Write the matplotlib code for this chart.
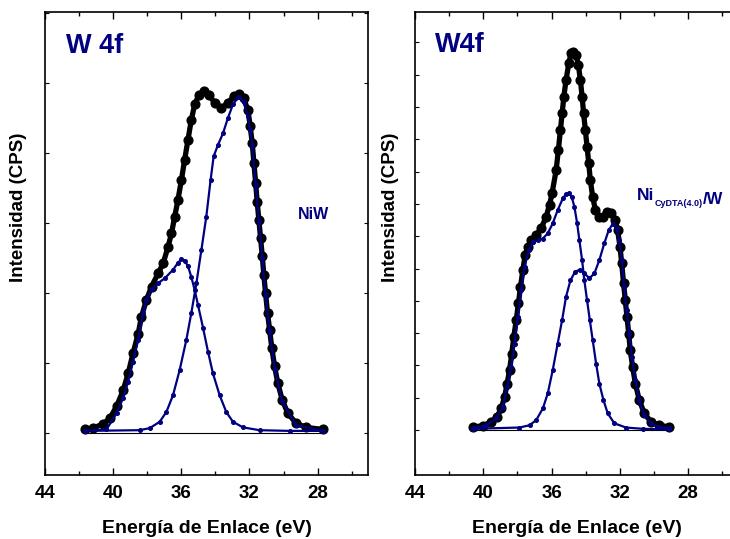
import numpy as np
import matplotlib.pyplot as plt

# Panel izquierdo: NiW (energia de enlace en eV, intensidad en u.a.)
be_env_niw = [41.64, 41.16, 40.57, 40.18, 39.79, 39.40, 39.11, 38.82, 38.52, 38.33,
              38.04, 37.74, 37.35, 37.06, 36.77, 36.57, 36.38, 36.19, 35.99, 35.80,
              35.60, 35.41, 35.21, 34.96, 34.66, 34.37, 34.04, 33.65, 33.26, 32.93,
              32.64, 32.35, 32.09, 31.96, 31.84, 31.74, 31.64, 31.55, 31.45, 31.35,
              31.25, 31.16, 31.06, 30.94, 30.82, 30.69, 30.53, 30.34, 30.08, 29.75,
              29.27, 28.68, 27.71]
int_env_niw = [0.05, 0.07, 0.13, 0.21, 0.38, 0.61, 0.85, 1.14, 1.42, 1.66,
               1.90, 2.09, 2.28, 2.42, 2.66, 2.85, 3.09, 3.33, 3.61, 3.90,
               4.19, 4.47, 4.69, 4.83, 4.88, 4.83, 4.71, 4.64, 4.71, 4.81,
               4.84, 4.78, 4.61, 4.38, 4.14, 3.85, 3.57, 3.30, 3.04, 2.78,
               2.52, 2.26, 2.00, 1.71, 1.47, 1.21, 0.95, 0.71, 0.47, 0.28,
               0.14, 0.08, 0.05]

be_c1_niw = [41.64, 40.38, 39.79, 39.40, 39.11, 38.82, 38.52, 38.23, 38.04, 37.74,
             37.35, 36.96, 36.48, 36.19, 35.99, 35.80, 35.60, 35.41, 35.21, 35.02,
             34.72, 34.43, 34.14, 33.75, 33.36, 32.97, 32.38, 31.41, 29.65, 27.71]
int_c1_niw = [0.03, 0.05, 0.28, 0.50, 0.73, 1.02, 1.33, 1.71, 1.90, 2.05,
              2.14, 2.21, 2.33, 2.43, 2.48, 2.46, 2.38, 2.23, 2.04, 1.83,
              1.50, 1.16, 0.85, 0.54, 0.30, 0.16, 0.08, 0.04, 0.03, 0.03]

be_c2_niw = [41.64, 38.43, 37.84, 37.26, 36.87, 36.48, 36.09, 35.70, 35.41, 35.11,
             34.82, 34.53, 34.28, 34.10, 33.85, 33.55, 33.26, 32.97, 32.64, 32.35,
             32.09, 31.96, 31.84, 31.64, 31.45, 31.25, 31.06, 30.82, 30.53, 30.08,
             29.27, 27.71]
int_c2_niw = [0.03, 0.04, 0.07, 0.16, 0.30, 0.54, 0.90, 1.33, 1.71, 2.14,
              2.61, 3.09, 3.61, 3.95, 4.11, 4.28, 4.50, 4.69, 4.80, 4.73,
              4.52, 4.33, 4.11, 3.54, 3.02, 2.50, 1.97, 1.45, 0.92, 0.45,
              0.11, 0.03]

# Panel derecho: NiCyDTA(4.0)/W
be_env_cy = [40.61, 40.02, 39.53, 39.20, 38.95, 38.75, 38.60, 38.46, 38.33, 38.21,
             38.07, 37.94, 37.82, 37.68, 37.55, 37.39, 37.20, 36.90, 36.61, 36.32,
             36.12, 35.97, 35.73, 35.60, 35.48, 35.38, 35.28, 35.15, 34.99, 34.86,
             34.72, 34.56, 34.43, 34.31, 34.21, 34.12, 34.02, 33.92, 33.82, 33.73,
             33.59, 33.43, 33.24, 33.00, 32.77, 32.52, 32.28, 32.13, 31.99, 31.89,
             31.78, 31.68, 31.58, 31.48, 31.39, 31.25, 31.09, 30.86, 30.57, 30.18,
             29.69, 29.11]
int_env_cy = [0.10, 0.13, 0.26, 0.41, 0.67, 1.03, 1.44, 1.86, 2.37, 2.89,
              3.41, 3.92, 4.44, 4.95, 5.42, 5.68, 5.88, 6.04, 6.24, 6.60,
              6.97, 7.33, 8.05, 8.67, 9.29, 9.80, 10.32, 10.84, 11.35, 11.66,
              11.71, 11.61, 11.30, 10.84, 10.32, 9.80, 9.29, 8.77, 8.26, 7.74,
              7.22, 6.81, 6.60, 6.60, 6.76, 6.71, 6.50, 6.19, 5.68, 5.16,
              4.54, 4.02, 3.51, 2.99, 2.48, 1.96, 1.44, 0.93, 0.52, 0.26,
              0.15, 0.10]

be_c1_cy = [40.61, 39.83, 39.24, 38.85, 38.60, 38.36, 38.17, 37.97, 37.78, 37.58,
            37.33, 37.06, 36.80, 36.51, 36.22, 35.93, 35.64, 35.34, 35.15, 34.99,
            34.82, 34.66, 34.50, 34.37, 34.21, 34.08, 33.92, 33.76, 33.59, 33.39,
            33.20, 32.96, 32.71, 32.32, 31.64, 30.66, 29.11]
int_c1_cy = [0.06, 0.15, 0.36, 0.72, 1.34, 1.96, 2.68, 3.51, 4.33, 5.06,
             5.57, 5.83, 5.88, 5.93, 6.09, 6.40, 6.81, 7.17, 7.31, 7.33,
             7.22, 6.91, 6.40, 5.88, 5.26, 4.64, 4.02, 3.41, 2.79, 2.06,
             1.44, 0.93, 0.52, 0.21, 0.08, 0.04, 0.02]

be_c2_cy = [40.61, 37.88, 37.29, 36.90, 36.51, 36.22, 35.93, 35.64, 35.38, 35.15,
            34.89, 34.62, 34.33, 34.08, 33.78, 33.49, 33.20, 32.91, 32.65, 32.42,
            32.19, 32.03, 31.89, 31.74, 31.60, 31.44, 31.29, 31.09, 30.86, 30.57,
            30.18, 29.69, 29.11]
int_c2_cy = [0.04, 0.08, 0.15, 0.31, 0.67, 1.14, 1.86, 2.68, 3.41, 4.13,
             4.64, 4.90, 4.97, 4.85, 4.70, 4.85, 5.26, 5.78, 6.19, 6.38,
             6.24, 5.88, 5.26, 4.44, 3.72, 2.99, 2.27, 1.55, 0.93, 0.46,
             0.21, 0.10, 0.05]

x_major = [44, 40, 36, 32, 28]
x_minor = [42, 38, 34, 30, 26]

navy = '#000080'
plt.rcParams['font.family'] = ['Liberation Sans', 'DejaVu Sans']


def dibuja_panel(ax, be_env, i_env, comps, ylim, nticks):
    # linea base
    ax.plot([be_env[0], be_env[-1]], [0, 0], color='k', lw=0.8, zorder=1)
    # envolvente experimental
    ax.plot(be_env, i_env, '-', color='k', lw=3.8, zorder=2, solid_capstyle='round')
    ax.plot(be_env, i_env, 'o', color='k', ms=6.3, zorder=3)
    # componentes
    for be, it in comps:
        ax.plot(be, it, '-', color=navy, lw=1.6, zorder=4)
        ax.plot(be, it, 'o', color=navy, ms=2.6, zorder=4)
    ax.set_xlim(44, 25.04)
    ax.set_ylim(*ylim)
    ax.set_xticks(x_major)
    ax.set_xticks(x_minor, minor=True)
    ax.set_yticks(range(nticks))
    ax.set_yticklabels([])
    ax.tick_params(axis='x', which='major', direction='in', length=5, width=1,
                   top=True, labelsize=13.5, pad=7)
    ax.tick_params(axis='x', which='minor', direction='in', length=3, width=1, top=True)
    ax.tick_params(axis='y', which='major', direction='in', length=3, width=0.8,
                   right=True)
    for lab in ax.get_xticklabels():
        lab.set_fontweight('bold')
    for sp in ax.spines.values():
        sp.set_linewidth(1.2)
    ax.text(0.5, -0.125, 'Energía de Enlace (eV)', transform=ax.transAxes,
            ha='center', va='baseline', fontsize=14, fontweight='bold')


fig = plt.figure(figsize=(7.3, 5.39), dpi=100)
ax1 = fig.add_axes([0.0612, 0.1187, 0.4433, 0.859])
ax2 = fig.add_axes([0.5685, 0.1187, 0.4433, 0.859])

dibuja_panel(ax1, be_env_niw, int_env_niw,
             [(be_c1_niw, int_c1_niw), (be_c2_niw, int_c2_niw)], (-0.6, 6.01), 7)
dibuja_panel(ax2, be_env_cy, int_env_cy,
             [(be_c1_cy, int_c1_cy), (be_c2_cy, int_c2_cy)], (-1.39, 12.94), 13)

ax1.text(0.065, 0.912, 'W 4f', transform=ax1.transAxes,
         fontsize=19.5, fontweight='bold', color=navy, va='baseline')
ax2.text(0.061, 0.914, 'W4f', transform=ax2.transAxes,
         fontsize=19.5, fontweight='bold', color=navy, va='baseline')

ax1.text(0.781, 0.552, 'NiW', transform=ax1.transAxes,
         fontsize=11.5, fontweight='bold', color=navy, va='baseline')

# etiqueta con subindice, encadenada a la pieza anterior
t_ni = ax2.text(0.686, 0.594, 'Ni', transform=ax2.transAxes,
                fontsize=12.5, fontweight='bold', color=navy, va='baseline')
t_sub = ax2.annotate('CyDTA(4.0)', xy=(1, 0), xycoords=t_ni, xytext=(0.3, -2.5),
                     textcoords='offset points', fontsize=6.5, fontweight='bold',
                     color=navy, va='baseline')
ax2.annotate('/W', xy=(1, 0), xycoords=t_sub, xytext=(-0.3, 3.5),
             textcoords='offset points', fontsize=12, fontweight='bold',
             color=navy, va='baseline')

fig.text(0.0253, 0.616, 'Intensidad (CPS)', rotation=90, ha='center', va='center',
         fontsize=13.5, fontweight='bold')
fig.text(0.5356, 0.616, 'Intensidad (CPS)', rotation=90, ha='center', va='center',
         fontsize=13.5, fontweight='bold')

fig.savefig('out.png', dpi=100)
